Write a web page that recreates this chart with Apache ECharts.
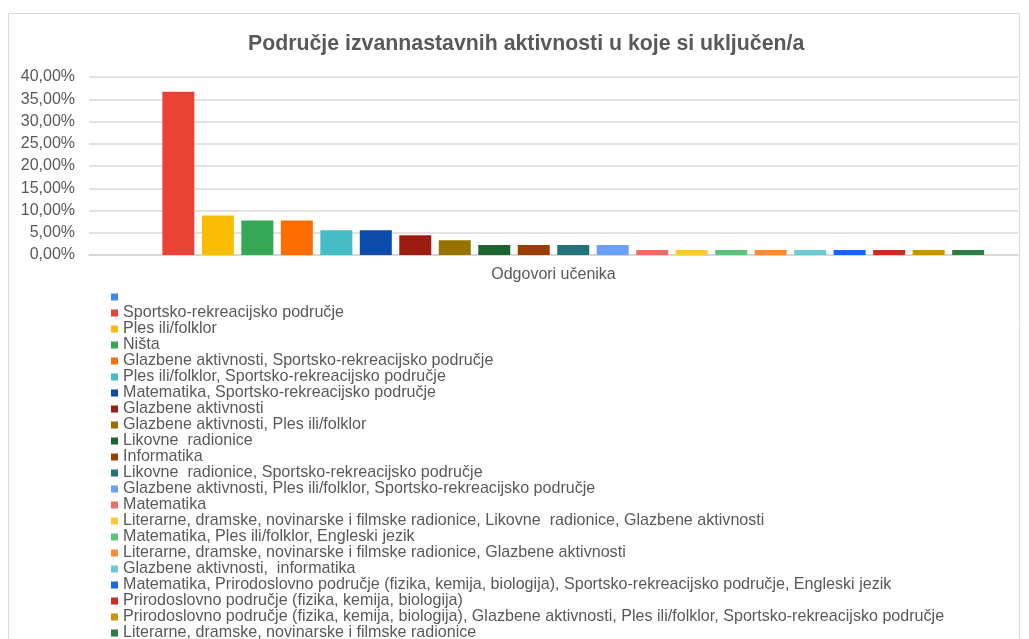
<!DOCTYPE html>
<html>
<head>
<meta charset="utf-8">
<script src="https://cdn.jsdelivr.net/npm/echarts@6/dist/echarts.min.js"></script>
<style>
html,body{margin:0;padding:0;background:#fff;}
#chart{width:1029px;height:639px;}
</style>
</head>
<body>
<div id="chart"></div>
<script>
const title = 'Područje izvannastavnih aktivnosti u koje si uključen/a';
const category = ['Odgovori učenika'];
const seriesNames = [
  ' ',
  'Sportsko-rekreacijsko područje',
  'Ples ili/folklor',
  'Ništa',
  'Glazbene aktivnosti, Sportsko-rekreacijsko područje',
  'Ples ili/folklor, Sportsko-rekreacijsko područje',
  'Matematika, Sportsko-rekreacijsko područje',
  'Glazbene aktivnosti',
  'Glazbene aktivnosti, Ples ili/folklor',
  'Likovne  radionice',
  'Informatika',
  'Likovne  radionice, Sportsko-rekreacijsko područje',
  'Glazbene aktivnosti, Ples ili/folklor, Sportsko-rekreacijsko područje',
  'Matematika',
  'Literarne, dramske, novinarske i filmske radionice, Likovne  radionice, Glazbene aktivnosti',
  'Matematika, Ples ili/folklor, Engleski jezik',
  'Literarne, dramske, novinarske i filmske radionice, Glazbene aktivnosti',
  'Glazbene aktivnosti,  informatika',
  'Matematika, Prirodoslovno područje (fizika, kemija, biologija), Sportsko-rekreacijsko područje, Engleski jezik',
  'Prirodoslovno područje (fizika, kemija, biologija)',
  'Prirodoslovno područje (fizika, kemija, biologija), Glazbene aktivnosti, Ples ili/folklor, Sportsko-rekreacijsko područje',
  'Literarne, dramske, novinarske i filmske radionice'
];
const seriesValues = [
  0, 0.3667, 0.0889, 0.0778, 0.0778, 0.0556, 0.0556, 0.0444, 0.0333,
  0.0222, 0.0222, 0.0222, 0.0222,
  0.0111, 0.0111, 0.0111, 0.0111, 0.0111, 0.0111, 0.0111, 0.0111, 0.0111
];
const colors = [
  '#4285F4', '#EA4335', '#FBBC04', '#34A853', '#FF6D01', '#46BDC6',
  '#0B4BAB', '#9C1C12', '#987200', '#1E6430', '#993E00', '#23737A',
  '#6AA0F7', '#EF6E64', '#FCC934', '#5BC478', '#FF8A34', '#6CCBD2',
  '#1565F0', '#D32A1F', '#C99400', '#2E7D44'
];
const yTicks = {min: 0, max: 0.4, interval: 0.05};

const chart = echarts.init(document.getElementById('chart'));
const font = 'Liberation Sans, Arial, sans-serif';
const series = seriesNames.map((n, i) => ({
  name: n,
  type: 'bar',
  data: [seriesValues[i]],
  barWidth: 32,
  barGap: '23.4%',
  itemStyle: {color: colors[i]},
  emphasis: {disabled: true}
}));

chart.setOption({
  animation: false,
  color: colors,
  textStyle: {fontFamily: font},
  graphic: [{
    type: 'rect',
    shape: {x: 8.5, y: 13.5, width: 1011, height: 700},
    style: {fill: 'none', stroke: '#d9d9d9', lineWidth: 1},
    silent: true, z: -10
  }],
  title: {
    text: title,
    left: 248,
    top: 34,
    padding: 0,
    textStyle: {fontFamily: font, fontSize: 21.3, fontWeight: 'bold', color: '#595959'}
  },
  grid: {left: 89, right: 11, top: 77, bottom: 384, containLabel: false},
  xAxis: {
    type: 'category',
    data: category,
    name: category[0],
    nameLocation: 'middle',
    nameGap: 12,
    nameTextStyle: {fontFamily: font, fontSize: 16, color: '#595959', verticalAlign: 'top'},
    axisLine: {lineStyle: {color: '#d3d3d3', width: 1.5}},
    axisTick: {show: false},
    axisLabel: {show: false}
  },
  yAxis: {
    type: 'value',
    min: yTicks.min, max: yTicks.max, interval: yTicks.interval,
    axisLine: {show: false},
    axisTick: {show: false},
    splitLine: {lineStyle: {color: '#d9d9d9', width: 1.5}},
    axisLabel: {
      fontFamily: font, fontSize: 16, color: '#595959', margin: 14,
      formatter: v => (v * 100).toFixed(2).replace('.', ',') + '%'
    }
  },
  legend: {
    orient: 'vertical',
    left: 111,
    top: 289,
    height: 400,
    padding: 0,
    itemGap: 0,
    itemWidth: 7,
    itemHeight: 7,
    icon: 'rect',
    selectedMode: false,
    data: seriesNames,
    textStyle: {fontFamily: font, fontSize: 16.1, color: '#595959', lineHeight: 15.9}
  },
  series: series
});
</script>
</body>
</html>
